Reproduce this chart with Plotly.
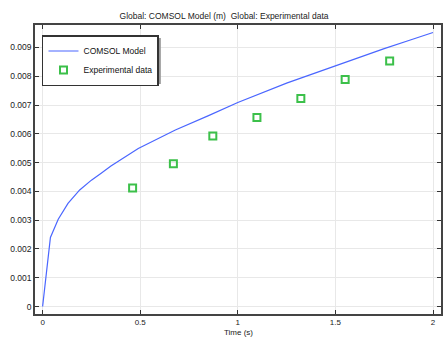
import plotly.graph_objects as go

# Model curve
model_t = [0, 0.04, 0.08, 0.13, 0.19, 0.25, 0.30, 0.35, 0.49, 0.68, 0.85, 1.0, 1.25, 1.5, 1.75, 1.88, 2.0]
model_y = [0, 0.00240, 0.00303, 0.00358, 0.00405, 0.00439, 0.00463, 0.00488, 0.00549, 0.00613,
           0.00663, 0.00709, 0.00776, 0.00837, 0.00896, 0.00925, 0.00952]

# Experimental data
exp_t = [0.461, 0.670, 0.872, 1.098, 1.323, 1.550, 1.778]
exp_y = [0.00412, 0.00496, 0.00592, 0.00657, 0.00723, 0.00789, 0.00853]

x_ticks = [0, 0.5, 1, 1.5, 2]
x_labels = ["0", "0.5", "1", "1.5", "2"]
y_ticks = [0, 0.001, 0.002, 0.003, 0.004, 0.005, 0.006, 0.007, 0.008, 0.009]
y_labels = ["0", "0.001", "0.002", "0.003", "0.004", "0.005", "0.006", "0.007", "0.008", "0.009"]

FONT = "Liberation Sans, Arial, sans-serif"
W, H = 448, 337
L, R, T, B = 35, 6.5, 25, 23
PW, PH = W - L - R, H - T - B


def px(x):
    return (x - L) / PW


def py(y):
    return (H - B - y) / PH


fig = go.Figure()
fig.add_trace(go.Scatter(x=model_t, y=model_y, mode="lines", name="COMSOL Model",
                         line=dict(color="#4a66ff", width=1.2)))
fig.add_trace(go.Scatter(x=exp_t, y=exp_y, mode="markers", name="Experimental data",
                         marker=dict(symbol="square-open", size=7, color="#3cc04a",
                                     line=dict(width=2, color="#3cc04a"))))

# legend drop shadow
fig.add_shape(type="rect", xref="paper", yref="paper", layer="above",
              x0=px(45), x1=px(161), y0=py(38), y1=py(84),
              fillcolor="#9a9a9a", line=dict(width=0))

# x-axis title
fig.add_annotation(text="Time (s)", xref="paper", yref="paper", x=0.5, y=py(337.5),
                   xanchor="center", yanchor="bottom", showarrow=False,
                   font=dict(size=8, family=FONT, color="#222"),
                   borderpad=0)

fig.update_layout(
    width=W, height=H,
    margin=dict(l=L, r=R, t=T, b=B, autoexpand=False),
    paper_bgcolor="white", plot_bgcolor="white",
    font=dict(family=FONT, size=8.5, color="#222"),
    title=dict(text="Global: COMSOL Model (m)  Global: Experimental data",
               x=0.5, xanchor="center", y=1 - 16 / H, yanchor="middle",
               font=dict(size=8.5, family=FONT, color="#222")),
    showlegend=True,
    legend=dict(x=px(42), y=py(35), xanchor="left", yanchor="top",
                bgcolor="white", bordercolor="#333", borderwidth=1.5,
                font=dict(size=8.5, family=FONT, color="#111"),
                tracegroupgap=0, itemwidth=30),
    xaxis=dict(range=[-0.039, 2.041], tickvals=x_ticks, ticktext=x_labels,
               showgrid=True, gridcolor="#e8e8e8", gridwidth=1,
               zeroline=False, showline=True, linecolor="#444", linewidth=1.5,
               mirror="allticks", ticks="inside", ticklen=4, tickcolor="#333",
               automargin=False, ticklabelstandoff=0,
               tickfont=dict(size=8)),
    yaxis=dict(range=[-0.00026, 0.00978], tickvals=y_ticks, ticktext=y_labels,
               showgrid=True, gridcolor="#e8e8e8", gridwidth=1,
               zeroline=False, showline=True, linecolor="#444", linewidth=1.5,
               mirror="allticks", ticks="inside", ticklen=4, tickcolor="#333",
               automargin=False,
               tickfont=dict(size=8.5)),
)

fig.write_html("out.html")
